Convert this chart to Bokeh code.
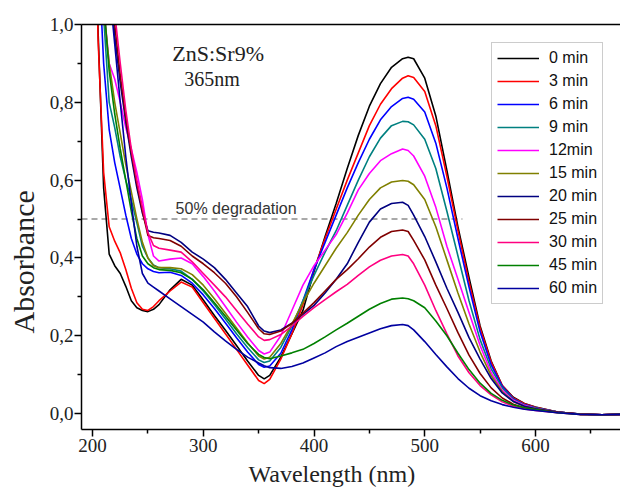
from bokeh.plotting import figure
from bokeh.models import (Range1d, FixedTicker, CustomJSTickFormatter, Legend,
                          LegendItem, Label, LinearAxis, Title)
from bokeh.embed import file_html
from bokeh.resources import INLINE

# ---------------- data ----------------
wavelength = [200, 205, 210, 215, 220, 225, 230, 235, 240, 245,
              250, 255, 260, 270, 280, 290, 300, 310, 320, 330,
              340, 350, 355, 360, 370, 380, 390, 400, 410, 420,
              430, 440, 450, 460, 470, 480, 485, 490, 500, 510,
              520, 530, 540, 550, 560, 570, 580, 590, 600, 620,
              640, 660, 680]

abs_0min = [1.60, 0.98, 0.58, 0.41, 0.38, 0.36, 0.327, 0.29, 0.272, 0.265,
            0.262, 0.268, 0.28, 0.318, 0.345, 0.33, 0.292, 0.252, 0.214, 0.175,
            0.135, 0.098, 0.089, 0.098, 0.145, 0.205, 0.265, 0.365, 0.455, 0.54,
            0.63, 0.715, 0.79, 0.848, 0.89, 0.912, 0.916, 0.912, 0.862, 0.765,
            0.625, 0.48, 0.35, 0.225, 0.135, 0.072, 0.042, 0.026, 0.017, 0.004,
            -0.002, -0.003, -0.002]
abs_3min = [1.60, 0.96, 0.62, 0.48, 0.443, 0.413, 0.37, 0.322, 0.285, 0.268,
            0.265, 0.275, 0.29, 0.315, 0.338, 0.325, 0.285, 0.245, 0.205, 0.165,
            0.125, 0.085, 0.077, 0.088, 0.14, 0.205, 0.28, 0.37, 0.45, 0.525,
            0.6, 0.67, 0.74, 0.795, 0.835, 0.862, 0.868, 0.864, 0.828, 0.74,
            0.61, 0.47, 0.338, 0.22, 0.132, 0.072, 0.04, 0.025, 0.016, 0.004,
            -0.002, -0.003, -0.002]
abs_6min = [1.75, 1.2, 0.9, 0.73, 0.645, 0.578, 0.51, 0.45, 0.41, 0.385,
            0.372, 0.365, 0.362, 0.363, 0.355, 0.335, 0.305, 0.27, 0.233, 0.195,
            0.158, 0.126, 0.119, 0.122, 0.155, 0.215, 0.29, 0.37, 0.44, 0.51,
            0.58, 0.645, 0.705, 0.755, 0.789, 0.81, 0.813, 0.808, 0.775, 0.695,
            0.58, 0.45, 0.325, 0.21, 0.125, 0.07, 0.038, 0.023, 0.015, 0.004,
            -0.001, -0.003, -0.002]
abs_9min = [1.8, 1.3, 1.02, 0.8, 0.735, 0.66, 0.6, 0.55, 0.49, 0.43,
            0.4, 0.382, 0.375, 0.372, 0.366, 0.345, 0.315, 0.28, 0.243, 0.205,
            0.17, 0.138, 0.131, 0.135, 0.17, 0.225, 0.29, 0.355, 0.415, 0.47,
            0.535, 0.6, 0.66, 0.708, 0.74, 0.751, 0.75, 0.742, 0.705, 0.63,
            0.52, 0.405, 0.29, 0.19, 0.115, 0.066, 0.036, 0.022, 0.014, 0.004,
            -0.001, -0.003, -0.002]
abs_12min = [1.9, 1.4, 1.05, 0.9, 0.86, 0.8, 0.735, 0.68, 0.62, 0.55,
             0.46, 0.405, 0.392, 0.397, 0.4, 0.385, 0.352, 0.315, 0.275, 0.235,
             0.197, 0.162, 0.153, 0.158, 0.2, 0.265, 0.33, 0.38, 0.42, 0.46,
             0.515, 0.575, 0.617, 0.65, 0.668, 0.68, 0.676, 0.662, 0.61, 0.53,
             0.43, 0.345, 0.26, 0.175, 0.105, 0.06, 0.034, 0.021, 0.013, 0.004,
             -0.001, -0.003, -0.002]
abs_15min = [1.9, 1.4, 1.04, 0.9, 0.8, 0.72, 0.64, 0.57, 0.5, 0.44,
             0.4, 0.38, 0.375, 0.375, 0.372, 0.357, 0.33, 0.295, 0.258, 0.22,
             0.182, 0.148, 0.14, 0.145, 0.18, 0.23, 0.285, 0.335, 0.38, 0.425,
             0.465, 0.51, 0.55, 0.58, 0.595, 0.599, 0.597, 0.588, 0.55, 0.48,
             0.395, 0.31, 0.23, 0.158, 0.097, 0.056, 0.031, 0.019, 0.012, 0.004,
             -0.001, -0.003, -0.002]
abs_20min = [2.0, 1.6, 1.35, 1.15, 0.97, 0.85, 0.75, 0.66, 0.58, 0.515,
             0.47, 0.466, 0.464, 0.458, 0.44, 0.415, 0.397, 0.375, 0.345, 0.31,
             0.275, 0.225, 0.212, 0.208, 0.215, 0.232, 0.255, 0.278, 0.31, 0.345,
             0.385, 0.44, 0.492, 0.526, 0.54, 0.543, 0.535, 0.51, 0.455, 0.39,
             0.322, 0.26, 0.195, 0.14, 0.09, 0.053, 0.031, 0.019, 0.012, 0.004,
             -0.001, -0.003, -0.002]
abs_25min = [2.0, 1.6, 1.38, 1.18, 1.0, 0.87, 0.76, 0.67, 0.59, 0.52,
             0.458, 0.452, 0.45, 0.445, 0.43, 0.405, 0.385, 0.362, 0.335, 0.3,
             0.26, 0.218, 0.205, 0.203, 0.212, 0.232, 0.258, 0.285, 0.315, 0.345,
             0.37, 0.398, 0.428, 0.453, 0.468, 0.472, 0.468, 0.445, 0.395, 0.33,
             0.27, 0.208, 0.15, 0.103, 0.066, 0.04, 0.024, 0.015, 0.01, 0.003,
             -0.001, -0.003, -0.002]
abs_30min = [2.0, 1.65, 1.42, 1.2, 1.03, 0.9, 0.78, 0.68, 0.6, 0.53,
             0.465, 0.432, 0.425, 0.42, 0.415, 0.39, 0.36, 0.33, 0.3, 0.265,
             0.23, 0.197, 0.188, 0.19, 0.203, 0.225, 0.25, 0.272, 0.293, 0.313,
             0.332, 0.355, 0.377, 0.394, 0.405, 0.409, 0.405, 0.385, 0.33, 0.265,
             0.205, 0.148, 0.105, 0.072, 0.048, 0.03, 0.019, 0.012, 0.008, 0.002,
             -0.002, -0.003, -0.002]
abs_45min = [1.9, 1.4, 1.06, 0.88, 0.77, 0.68, 0.6, 0.52, 0.45, 0.405,
             0.385, 0.375, 0.37, 0.368, 0.362, 0.345, 0.318, 0.285, 0.25, 0.215,
             0.18, 0.152, 0.144, 0.141, 0.148, 0.156, 0.165, 0.18, 0.197, 0.215,
             0.232, 0.25, 0.268, 0.283, 0.294, 0.297, 0.295, 0.29, 0.272, 0.238,
             0.2, 0.155, 0.113, 0.078, 0.052, 0.034, 0.022, 0.015, 0.01, 0.002,
             -0.002, -0.003, -0.002]
abs_60min = [2.0, 1.55, 1.3, 1.1, 0.95, 0.8, 0.66, 0.54, 0.43, 0.36,
             0.335, 0.325, 0.315, 0.295, 0.275, 0.255, 0.235, 0.21, 0.187, 0.165,
             0.145, 0.13, 0.123, 0.118, 0.116, 0.121, 0.13, 0.143, 0.156, 0.172,
             0.185, 0.196, 0.207, 0.218, 0.226, 0.229, 0.226, 0.215, 0.185, 0.152,
             0.12, 0.09, 0.065, 0.046, 0.033, 0.023, 0.016, 0.011, 0.008, 0.002,
             -0.002, -0.003, -0.002]

series_labels = ["0 min", "3 min", "6 min", "9 min", "12min", "15 min",
                 "20 min", "25 min", "30 min", "45 min", "60 min"]
series_values = [abs_0min, abs_3min, abs_6min, abs_9min, abs_12min, abs_15min,
                 abs_20min, abs_25min, abs_30min, abs_45min, abs_60min]
series_colors = ["#000000", "#FF0000", "#0000FF", "#008080", "#FF00FF", "#808000",
                 "#000080", "#800000", "#FF0080", "#008000", "#0000A0"]

x_ticks = [200, 300, 400, 500, 600]
x_minor = [250, 350, 450, 550, 650]
y_ticks = [0.0, 0.2, 0.4, 0.6, 0.8, 1.0]
y_minor = [0.1, 0.3, 0.5, 0.7, 0.9]

degradation_level = 0.5
degradation_span = [190, 534]

# ---------------- figure ----------------
p = figure(width=620, height=496,
           x_range=Range1d(190, 676.8), y_range=Range1d(-0.041, 1.0),
           output_backend="svg", toolbar_location=None,
           min_border_left=81, min_border_right=0,
           min_border_top=24, min_border_bottom=67)
p.outline_line_color = None
p.grid.visible = False
p.background_fill_color = "white"
p.border_fill_color = "white"

serif = "Liberation Serif"
sans = "Liberation Sans"

# 50% degradation reference line
p.line(x=degradation_span, y=[degradation_level, degradation_level],
       line_color="#555555", line_width=1.2, line_dash="6 4")

items = []
for lab, vals, col in zip(series_labels, series_values, series_colors):
    r = p.line(wavelength, vals, line_color=col, line_width=1.6)
    items.append(LegendItem(label=lab, renderers=[r]))

legend = Legend(items=items, location=(410, 125),
                label_text_font=sans, label_text_font_size="16px",
                label_text_color="#111111",
                glyph_width=42, glyph_height=20, label_height=20,
                label_standoff=10, spacing=3, padding=5, margin=0,
                border_line_color="#999999", border_line_width=1,
                background_fill_alpha=1.0)
p.add_layout(legend)

# axes
for ax in (p.xaxis[0], p.yaxis[0]):
    ax.axis_line_width = 1.5
    ax.axis_line_color = "black"
    ax.major_tick_line_width = 1.5
    ax.minor_tick_line_width = 1.5
    ax.major_tick_in = 0
    ax.major_tick_out = 7
    ax.minor_tick_in = 0
    ax.minor_tick_out = 4
    ax.major_label_text_font = serif
    ax.major_label_text_font_size = "19px"
    ax.major_label_text_color = "#222222"

xa = p.xaxis[0]
xa.ticker = FixedTicker(ticks=x_ticks, minor_ticks=x_minor)
xa.major_label_standoff = 2

ya = p.yaxis[0]
ya.ticker = FixedTicker(ticks=y_ticks, minor_ticks=y_minor)
ya.formatter = CustomJSTickFormatter(code="return tick.toFixed(1).replace('.', ',');")
ya.major_label_standoff = 1

top = LinearAxis(ticker=FixedTicker(ticks=[]), major_label_text_font_size="0px",
                 major_tick_line_color=None, minor_tick_line_color=None,
                 axis_line_width=1.5, axis_line_color="black")
p.add_layout(top, "above")

# axis titles as side panels (off-centre like the reference)
p.add_layout(Title(text="Wavelength (nm)", align="left", offset=167,
                   standoff=8, text_font=serif, text_font_size="24px",
                   text_font_style="normal", text_color="#222222"), "below")
p.add_layout(Title(text="Absorbance", align="left", offset=96,
                   vertical_align="top", standoff=10,
                   text_font=serif, text_font_size="30px",
                   text_font_style="normal", text_color="#222222"), "left")

# annotations
p.add_layout(Label(x=272, y=0.925, text="ZnS:Sr9%", text_font=serif,
                   text_font_size="22px", text_baseline="alphabetic",
                   text_color="#222222"))
p.add_layout(Label(x=282.7, y=0.86, text="365nm", text_font=serif,
                   text_font_size="20px", text_baseline="alphabetic",
                   text_color="#222222"))
p.add_layout(Label(x=275, y=0.526, text="50% degradation", text_font=sans,
                   text_font_size="16px", text_baseline="alphabetic",
                   text_color="#333333"))

open("out.html", "w").write(file_html(p, INLINE))
